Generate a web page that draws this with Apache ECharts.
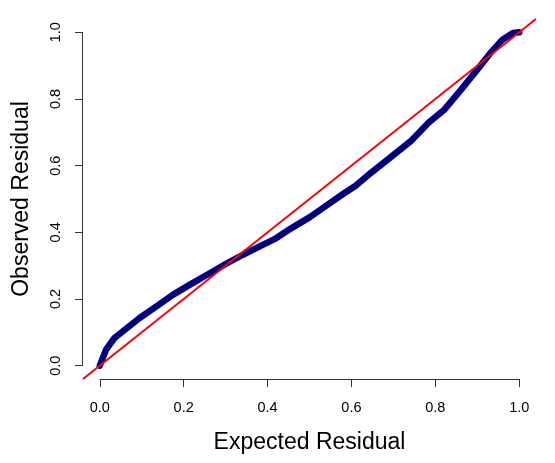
<!DOCTYPE html>
<html>
<head>
<meta charset="utf-8">
<script src="https://cdn.jsdelivr.net/npm/echarts@6/dist/echarts.min.js"></script>
<style>
  html, body { margin: 0; padding: 0; background: #fff; }
  #chart { width: 555px; height: 463px; }
</style>
</head>
<body>
<div id="chart"></div>
<script>
// QQ plot values
const expected = [0, 0.015, 0.035, 0.065, 0.095, 0.135, 0.175, 0.215, 0.255, 0.3, 0.34, 0.38, 0.42, 0.46, 0.5, 0.54, 0.58, 0.61, 0.645, 0.69, 0.74, 0.785, 0.82, 0.86, 0.9, 0.93, 0.96, 0.985, 1.0];
const observed = [0, 0.048, 0.083, 0.113, 0.143, 0.178, 0.213, 0.243, 0.272, 0.305, 0.332, 0.357, 0.382, 0.415, 0.445, 0.48, 0.515, 0.54, 0.577, 0.622, 0.672, 0.73, 0.766, 0.826, 0.888, 0.936, 0.978, 0.998, 1.0];
const ticks = [0, 0.2, 0.4, 0.6, 0.8, 1.0];
// R pads the plot region by 4% on each side
const axisMin = -0.04;
const axisMax = 1.04;

const font = 'Liberation Sans, Arial, Helvetica, sans-serif';
const chart = echarts.init(document.getElementById('chart'), null, { renderer: 'canvas' });

const axisCommon = {
  type: 'value',
  min: axisMin,
  max: axisMax,
  splitLine: { show: false },
  axisLine: { show: false, onZero: false },
  axisTick: { show: true, customValues: ticks, length: 8, lineStyle: { color: '#333', width: 1 } },
  nameLocation: 'middle',
  nameTextStyle: { fontFamily: font, fontSize: 23, color: '#000' }
};

chart.setOption({
  animation: false,
  grid: { left: 83, right: 19, top: 19, bottom: 84 },
  xAxis: Object.assign({}, axisCommon, {
    name: 'Expected Residual',
    nameGap: 52,
    axisLabel: {
      customValues: ticks, margin: 21, fontFamily: font, fontSize: 14.5, color: '#000',
      formatter: v => v.toFixed(1)
    }
  }),
  yAxis: Object.assign({}, axisCommon, {
    name: 'Observed Residual',
    nameGap: 50,
    axisLabel: {
      customValues: ticks, margin: 20, rotate: 90, fontFamily: font, fontSize: 14.5, color: '#000',
      formatter: v => v.toFixed(1)
    }
  }),
  series: [
    {
      type: 'line',
      data: expected.map((x, i) => [x, observed[i]]),
      showSymbol: false,
      lineStyle: { color: '#000080', width: 6.5, cap: 'round', join: 'round' },
      z: 2
    },
    {
      // 1:1 reference line across the whole plot region
      type: 'line',
      data: [[axisMin, axisMin], [axisMax, axisMax]],
      showSymbol: false,
      lineStyle: { color: '#ff0000', width: 2 },
      z: 3
    }
  ]
});

// R style axis lines: only from first to last tick
const p0 = chart.convertToPixel({ gridIndex: 0 }, [ticks[0], ticks[0]]);
const p1 = chart.convertToPixel({ gridIndex: 0 }, [ticks[ticks.length - 1], ticks[ticks.length - 1]]);
const corner = chart.convertToPixel({ gridIndex: 0 }, [axisMin, axisMin]);
chart.setOption({
  graphic: [
    { type: 'line', shape: { x1: p0[0], y1: corner[1] + 0.5, x2: p1[0], y2: corner[1] + 0.5 }, style: { stroke: '#333', lineWidth: 1 } },
    { type: 'line', shape: { x1: corner[0] - 0.5, y1: p0[1], x2: corner[0] - 0.5, y2: p1[1] }, style: { stroke: '#333', lineWidth: 1 } }
  ]
});
</script>
</body>
</html>
